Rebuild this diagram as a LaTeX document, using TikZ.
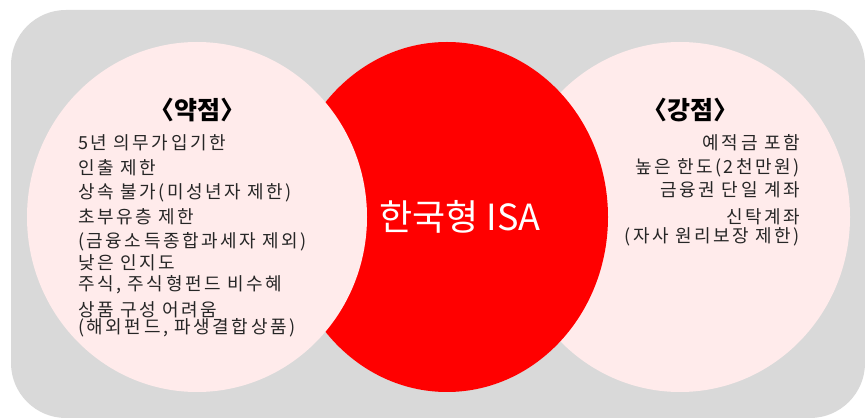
\documentclass[tikz,border=0pt]{standalone}
\usepackage{fontspec}
\setmainfont{Noto Sans CJK KR}
\newfontfamily\krfont{Noto Sans CJK KR}
\newfontfamily\krwide[LetterSpace=14]{Noto Sans CJK KR}
\begin{document}
\begin{tikzpicture}[x=1pt,y=-1pt,
  bodytext/.style={font=\krwide\fontsize{18}{20}\selectfont, text=black!85, inner sep=0pt},
  headtext/.style={font=\krfont\fontsize{25}{28}\selectfont\bfseries, text=black, inner sep=0pt}]
\definecolor{bggray}{HTML}{D9D9D9}
\definecolor{softpink}{HTML}{FFEBEB}
\definecolor{isared}{HTML}{FF0000}
\useasboundingbox (0,0) rectangle (865,419);
\fill[white] (0,0) rectangle (865,419);
\fill[bggray, rounded corners=55pt] (11,10) rectangle (865,418);
% shapes
\fill[softpink] (680,217) ellipse [x radius=170, y radius=175];
\fill[isared] (447,217) ellipse [x radius=161, y radius=175];
\fill[softpink] (197,217) ellipse [x radius=170, y radius=175];
% center label
\node[font=\krfont\fontsize{36}{40}\selectfont, text=white, inner sep=0pt] (isa) at (460,217) {한국형 ISA};
% left
\node[headtext] (weak) at (197,110) {〈약점〉};
\node[bodytext, anchor=west] (w1) at (78,143) {5년 의무가입기한};
\node[bodytext, anchor=west] (w2) at (78,168) {인출 제한};
\node[bodytext, anchor=west] (w3) at (78,193) {상속 불가(미성년자 제한)};
\node[bodytext, anchor=west] (w4) at (78,217) {초부유층 제한};
\node[bodytext, anchor=west] (w5) at (78,242) {(금융소득종합과세자 제외)};
\node[bodytext, anchor=west] (w6) at (78,263) {낮은 인지도};
\node[bodytext, anchor=west] (w7) at (78,285) {주식, 주식형펀드 비수혜};
\node[bodytext, anchor=west] (w8) at (78,310) {상품 구성 어려움};
\node[bodytext, anchor=west] (w9) at (78,328) {(해외펀드, 파생결합상품)};
% right
\node[headtext] (strong) at (690,110) {〈강점〉};
\node[bodytext, anchor=east] (s1) at (800,143) {예적금 포함};
\node[bodytext, anchor=east] (s2) at (800,168) {높은 한도(2천만원)};
\node[bodytext, anchor=east] (s3) at (800,190) {금융권 단일 계좌};
\node[bodytext, anchor=east] (s4) at (800,217) {신탁계좌};
\node[bodytext, anchor=east] (s5) at (800,237) {(자사 원리보장 제한)};
\end{tikzpicture}
\end{document}
